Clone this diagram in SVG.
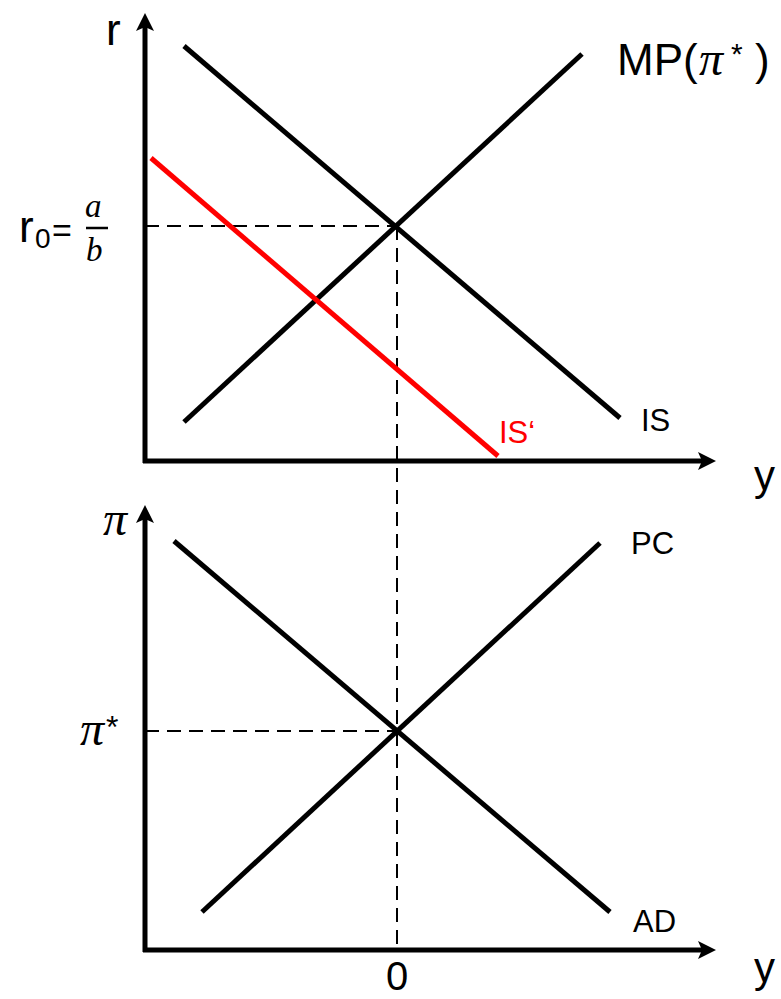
<svg xmlns="http://www.w3.org/2000/svg" width="781" height="999" viewBox="0 0 781 999">
<style>
.ax{stroke:#000;stroke-width:5;fill:none}
.cv{stroke:#000;stroke-width:5;fill:none}
.red{stroke:#f00;stroke-width:5;fill:none}
.dash{stroke:#000;stroke-width:2;fill:none;stroke-dasharray:14 8}
.t{font-family:"Liberation Sans",Arial,sans-serif;fill:#000}
.m{font-family:"Liberation Serif","DejaVu Serif",serif;font-style:italic;fill:#000}
</style>
<rect width="781" height="999" fill="#fff"/>
<g id="connectors">
<line class="dash" x1="145" y1="226" x2="397" y2="226"/>
<line class="dash" x1="397" y1="226" x2="397" y2="950"/>
<line class="dash" x1="145" y1="731" x2="397" y2="731"/>
</g>
<g id="top-axes">
<line class="ax" x1="145" y1="463" x2="145" y2="26"/>
<polygon points="145,13 154,31 145,27 136,31" fill="#000"/>
<line class="ax" x1="143" y1="461" x2="702" y2="461"/>
<polygon points="716,461 698,470 702,461 698,452" fill="#000"/>
</g>
<g id="IS"><line class="cv" x1="184" y1="46" x2="620" y2="418"/></g>
<g id="MP"><line class="cv" x1="184" y1="422" x2="582" y2="54"/></g>
<g id="IS-prime"><line class="red" x1="151" y1="158" x2="498" y2="456"/></g>
<g id="bottom-axes">
<line class="ax" x1="145" y1="952" x2="145" y2="518"/>
<polygon points="145,505 154,523 145,519 136,523" fill="#000"/>
<line class="ax" x1="143" y1="950" x2="702" y2="950"/>
<polygon points="716,950 698,959 702,950 698,941" fill="#000"/>
</g>
<g id="AD"><line class="cv" x1="174" y1="541" x2="610" y2="912"/></g>
<g id="PC"><line class="cv" x1="202" y1="912" x2="600" y2="543"/></g>
<g id="labels">
<text class="t" x="106" y="45" font-size="44">r</text>
<text class="t" x="19" y="242" font-size="44">r</text>
<text class="t" x="35" y="248" font-size="28">0</text>
<text class="t" x="52" y="242" font-size="34">=</text>
<text class="m" x="85" y="217" font-size="33">a</text>
<line x1="86" y1="228" x2="108" y2="228" stroke="#000" stroke-width="2.5"/>
<text class="m" x="86" y="261" font-size="33">b</text>
<text class="t" x="617" y="75" font-size="44">MP(</text>
<text class="m" x="699" y="75" font-size="48">π</text>
<text class="t" x="731" y="64" font-size="30">*</text>
<text class="t" x="755" y="75" font-size="44">)</text>
<text class="t" x="641" y="431" font-size="31">IS</text>
<text class="t" x="499" y="443" font-size="31" style="fill:#f00">IS‘</text>
<text class="t" x="754" y="490" font-size="42">y</text>
<text class="m" x="103" y="535" font-size="48">π</text>
<text class="m" x="80" y="745" font-size="48">π</text>
<text class="t" x="106" y="738" font-size="32">*</text>
<text class="t" x="631" y="554" font-size="31">PC</text>
<text class="t" x="633" y="932" font-size="31">AD</text>
<text class="t" x="386" y="990" font-size="40">0</text>
<text class="t" x="754" y="982" font-size="42">y</text>
</g>
</svg>
